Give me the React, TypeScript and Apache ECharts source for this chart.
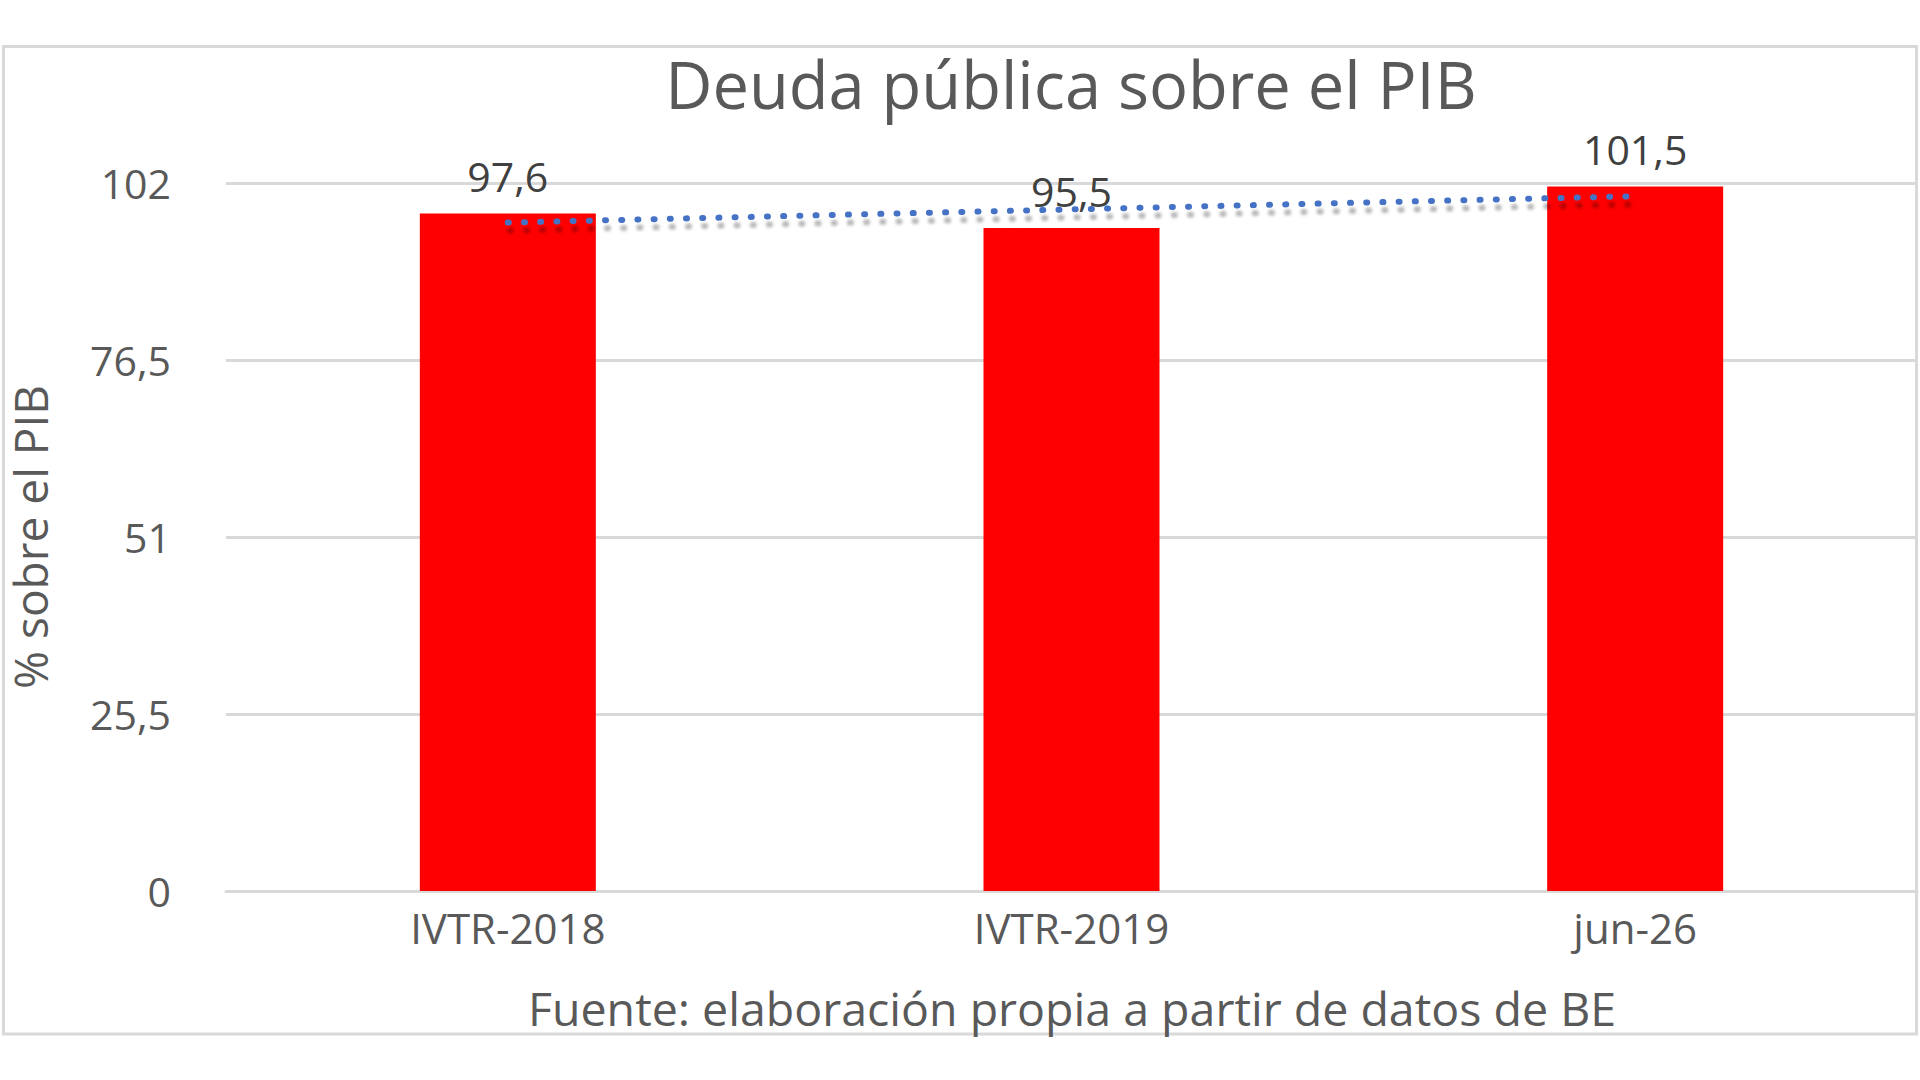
import React, { useEffect, useRef } from "react";
import * as echarts from "echarts";

const categories = ["IVTR-2018", "IVTR-2019", "jun-26"];
const debtValues = [97.6, 95.5, 101.5];
const trendValues = [96.3, 98.2, 100.1];
const yTicks = { min: 0, max: 102, interval: 25.5 };

const titleText = "Deuda pública sobre el PIB";
const yAxisTitle = "% sobre el PIB";
const footerText = "Fuente: elaboración propia a partir de datos de BE";

const FONT = "'Open Sans', 'Noto Sans', sans-serif";
const fmt = (v: number) => String(v).replace(".", ",");

export default function App() {
  const ref = useRef<HTMLDivElement>(null);
  useEffect(() => {
    if (!ref.current) return;
    const chart = echarts.init(ref.current, undefined, { renderer: "svg" });
    chart.setOption({
      animation: false,
      backgroundColor: "#ffffff",
      grid: {
        left: 226,
        right: 3,
        top: 183,
        bottom: 189,
        containLabel: false,
        outerBoundsMode: "none",
      },
      xAxis: {
        type: "category",
        data: categories,
        boundaryGap: true,
        axisLine: { show: true, lineStyle: { color: "#d9d9d9", width: 3 } },
        axisTick: { show: false },
        axisLabel: {
          color: "#595959",
          fontFamily: FONT,
          fontSize: 42,
          margin: 15,
        },
      },
      yAxis: {
        type: "value",
        min: yTicks.min,
        max: yTicks.max,
        interval: yTicks.interval,
        name: yAxisTitle,
        nameLocation: "middle",
        nameRotate: 90,
        nameGap: 176,
        nameTextStyle: {
          color: "#595959",
          fontFamily: FONT,
          fontSize: 46,
          lineHeight: 40,
        },
        axisLine: { show: false },
        axisTick: { show: false },
        splitLine: { lineStyle: { color: "#d9d9d9", width: 3 } },
        axisLabel: {
          color: "#595959",
          fontFamily: FONT,
          fontSize: 41,
          margin: 55,
          formatter: (v: number) => fmt(v),
        },
      },
      series: [
        {
          type: "bar",
          data: debtValues,
          barWidth: 176,
          itemStyle: { color: "#ff0000" },
          label: {
            show: true,
            position: "top",
            distance: 17,
            color: "#404040",
            fontFamily: FONT,
            fontSize: 41,
            formatter: (p: any) => fmt(p.value),
          },
          z: 2,
        },
        {
          type: "line",
          data: trendValues,
          symbol: "none",
          silent: true,
          lineStyle: {
            color: "#4472c4",
            width: 6,
            type: [1, 15.2],
            cap: "round",
            shadowColor: "rgba(0,0,0,0.28)",
            shadowBlur: 3,
            shadowOffsetX: 2,
            shadowOffsetY: 8,
          },
          z: 3,
        },
      ],
      graphic: [
        {
          type: "rect",
          silent: true,
          z: -10,
          shape: { x: 3.5, y: 46.5, width: 1913, height: 987.5 },
          style: { fill: "none", stroke: "#d9d9d9", lineWidth: 3 },
        },
        {
          type: "text",
          silent: true,
          x: 1071,
          y: 84,
          style: {
            text: titleText,
            fill: "#595959",
            fontFamily: FONT,
            fontSize: 65,
            align: "center",
            verticalAlign: "middle",
          },
        },
        {
          type: "text",
          silent: true,
          x: 1072,
          y: 1008,
          style: {
            text: footerText,
            fill: "#595959",
            fontFamily: FONT,
            fontSize: 46.5,
            align: "center",
            verticalAlign: "middle",
          },
        },
      ],
    });
    return () => chart.dispose();
  }, []);
  return (
    <div
      ref={ref}
      style={{ position: "fixed", left: 0, top: 0, width: 1920, height: 1080 }}
    />
  );
}
